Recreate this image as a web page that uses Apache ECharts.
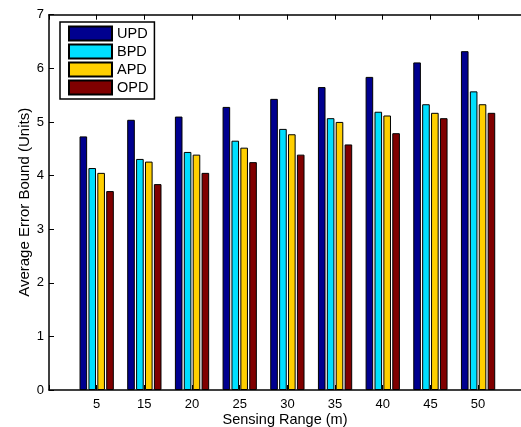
<!DOCTYPE html>
<html>
<head>
<meta charset="utf-8">
<script src="https://cdn.jsdelivr.net/npm/echarts@6/dist/echarts.min.js"></script>
<style>
html,body{margin:0;padding:0;background:#fff;}
#chart{width:521px;height:427px;}
</style>
</head>
<body>
<div id="chart"></div>
<script>
const categories = ['5', '15', '20', '25', '30', '35', '40', '45', '50'];
const seriesNames = ['UPD', 'BPD', 'APD', 'OPD'];
const UPD = [4.73, 5.04, 5.10, 5.28, 5.43, 5.65, 5.84, 6.11, 6.32];
const BPD = [4.14, 4.31, 4.44, 4.65, 4.87, 5.07, 5.19, 5.33, 5.57];
const APD = [4.05, 4.26, 4.39, 4.52, 4.77, 5.00, 5.12, 5.17, 5.33];
const OPD = [3.71, 3.84, 4.05, 4.25, 4.39, 4.58, 4.79, 5.07, 5.17];
const colors = ['#00008F', '#00DFFF', '#FFCF00', '#800000'];
const yTicks = [0, 1, 2, 3, 4, 5, 6, 7];

const values = [UPD, BPD, APD, OPD];
// group i sits at x = i + 1; the visible x range is cropped on the right like the original figure
const xMin = 0, xMax = 9.9;
const font = 'Liberation Sans, Arial, Helvetica, sans-serif';

const chart = echarts.init(document.getElementById('chart'), null, {renderer: 'canvas'});
const series = values.map((arr, i) => ({
  name: seriesNames[i],
  type: 'bar',
  data: arr.map((v, j) => [j + 1, v]),
  barWidth: 7.6,
  barGap: '17%',
  itemStyle: {color: colors[i], borderColor: '#000', borderWidth: 1},
  emphasis: {disabled: true},
  animation: false
}));

const catLabel = v => (Number.isInteger(v) && v >= 1 && v <= categories.length) ? categories[v - 1] : '';

chart.setOption({
  animation: false,
  textStyle: {fontFamily: font},
  grid: {left: 49, top: 14.7, right: 0, height: 375.3, containLabel: false, outerBoundsMode: 'none'},
  legend: {
    orient: 'vertical',
    left: 60, top: 22,
    padding: [3, 6, 3, 8],
    itemWidth: 43, itemHeight: 14, itemGap: 1,
    borderColor: '#000', borderWidth: 1.5,
    backgroundColor: '#fff',
    textStyle: {fontFamily: font, fontSize: 14.5, lineHeight: 17, color: '#000', padding: [0, 0, 0, 0]},
    icon: 'rect',
    data: seriesNames
  },
  // cover the stray right-hand border that the cropped frame leaves inside the plot
  graphic: [{
    type: 'rect', z: 100, silent: true,
    shape: {x: 512, y: 17, width: 9, height: 371},
    style: {fill: '#fff'}
  }],
  xAxis: [{
    type: 'value',
    min: xMin, max: xMax, interval: 1,
    position: 'bottom',
    axisLine: {show: true, onZero: false, lineStyle: {color: '#000', width: 1.5}},
    axisTick: {show: true, inside: true, length: 5, lineStyle: {color: '#000'}},
    axisLabel: {color: '#000', fontSize: 13, fontFamily: font, margin: 8, formatter: catLabel, showMinLabel: true, showMaxLabel: true},
    splitLine: {show: false},
    name: 'Sensing Range (m)',
    nameLocation: 'middle',
    nameGap: 22,
    nameMoveOverlap: false,
    nameTextStyle: {color: '#000', fontSize: 14.5, fontFamily: font}
  }, {
    type: 'value',
    min: xMin, max: xMax, interval: 1,
    position: 'top',
    axisLine: {show: true, onZero: false, lineStyle: {color: '#000', width: 1.5}},
    axisTick: {show: true, inside: true, length: 5, lineStyle: {color: '#000'}},
    axisLabel: {show: false},
    splitLine: {show: false}
  }],
  yAxis: {
    type: 'value',
    min: yTicks[0], max: yTicks[yTicks.length - 1], interval: 1,
    axisLine: {show: true, onZero: false, lineStyle: {color: '#000', width: 1.5}},
    axisTick: {show: true, inside: true, length: 5, lineStyle: {color: '#000'}},
    axisLabel: {color: '#000', fontSize: 13, fontFamily: font, margin: 5},
    splitLine: {show: false},
    name: 'Average Error Bound (Units)',
    nameLocation: 'middle',
    nameGap: 17,
    nameMoveOverlap: false,
    nameTextStyle: {color: '#000', fontSize: 15, fontFamily: font}
  },
  series: series
});
</script>
</body>
</html>
